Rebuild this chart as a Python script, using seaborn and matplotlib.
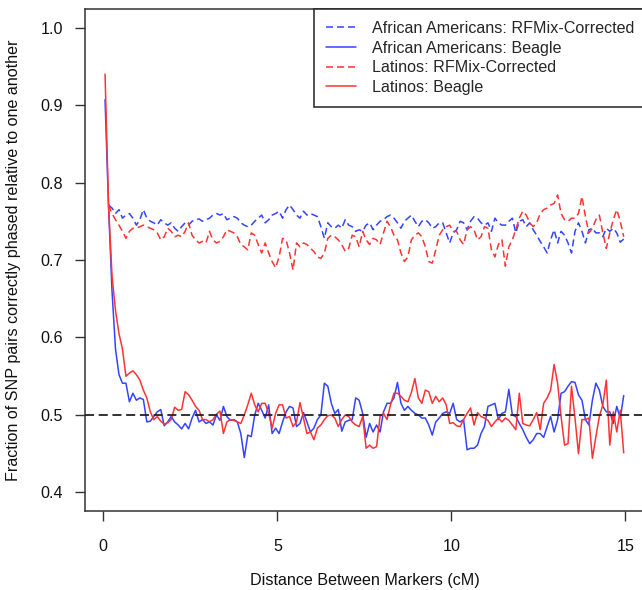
import numpy as np
import pandas as pd
import matplotlib
matplotlib.use("Agg")
import matplotlib.pyplot as plt
import seaborn as sns

# ---------------- data ----------------
# marker-distance grid (cM), bins of 0.1 cM, bin centres
distance_cm = np.round(np.arange(150) * 0.1 + 0.05, 2)

aa_beagle = [
    0.907, 0.770, 0.660, 0.585,
    0.552, 0.541, 0.541, 0.517, 0.528, 0.519, 0.522, 0.520, 0.491, 0.492,
    0.498, 0.504, 0.507, 0.486, 0.491, 0.498, 0.491, 0.487, 0.482, 0.489,
    0.482, 0.496, 0.506, 0.491, 0.494, 0.489, 0.491, 0.487, 0.500, 0.493,
    0.511, 0.498, 0.493, 0.494, 0.491, 0.476, 0.445, 0.474, 0.472, 0.500,
    0.515, 0.506, 0.496, 0.513, 0.476, 0.483, 0.476,
    0.491, 0.504, 0.511, 0.509, 0.485, 0.489, 0.503, 0.491, 0.478, 0.483,
    0.494, 0.500, 0.541, 0.537, 0.515, 0.502, 0.507, 0.479, 0.491, 0.493,
    0.494, 0.522, 0.519, 0.502, 0.471, 0.489, 0.478, 0.487, 0.478, 0.504,
    0.515, 0.515, 0.522, 0.542, 0.515, 0.506, 0.511, 0.506, 0.502, 0.500,
    0.496, 0.496, 0.487, 0.474, 0.491, 0.496, 0.502, 0.504, 0.502, 0.515,
    0.494, 0.491, 0.494, 0.455, 0.457, 0.457, 0.461, 0.476, 0.485, 0.511,
    0.513, 0.515, 0.494, 0.502, 0.504, 0.533, 0.500, 0.498, 0.489, 0.481,
    0.471, 0.463, 0.468, 0.476, 0.476, 0.471, 0.485, 0.498, 0.478, 0.494,
    0.528, 0.530, 0.537, 0.543, 0.542, 0.526, 0.519, 0.494, 0.487, 0.519,
    0.541, 0.532, 0.511, 0.504, 0.504, 0.489, 0.511, 0.496, 0.525,
]

lat_beagle = [
    0.940, 0.770, 0.680, 0.635, 0.605, 0.585,
    0.550, 0.554, 0.557, 0.552, 0.545, 0.532, 0.522, 0.504, 0.494, 0.498,
    0.492, 0.488, 0.490, 0.494, 0.510, 0.506, 0.507, 0.530, 0.526, 0.519,
    0.511, 0.506, 0.494, 0.494, 0.491, 0.494, 0.501, 0.505, 0.476, 0.491,
    0.494, 0.493, 0.491, 0.489, 0.500, 0.513, 0.528, 0.513, 0.504, 0.515,
    0.515, 0.502, 0.483, 0.502, 0.513,
    0.513, 0.496, 0.498, 0.485, 0.491, 0.516, 0.496, 0.476, 0.478, 0.468,
    0.483, 0.487, 0.494, 0.499, 0.500, 0.496, 0.485, 0.494, 0.500, 0.498,
    0.491, 0.487, 0.485, 0.498, 0.457, 0.461, 0.457, 0.459, 0.498, 0.502,
    0.494, 0.513, 0.528, 0.528, 0.524, 0.519, 0.517, 0.529, 0.547, 0.522,
    0.515, 0.532, 0.530, 0.515, 0.524, 0.517, 0.522, 0.513, 0.489, 0.490,
    0.486, 0.485, 0.494, 0.502, 0.509, 0.487, 0.503, 0.498, 0.496, 0.493,
    0.485, 0.491, 0.496, 0.491, 0.496, 0.493, 0.487, 0.481, 0.528, 0.489,
    0.487, 0.486, 0.494, 0.503, 0.481, 0.515, 0.522, 0.532, 0.565, 0.541,
    0.498, 0.461, 0.463, 0.537, 0.496, 0.450, 0.494, 0.494, 0.496, 0.444,
    0.472, 0.498, 0.513, 0.545, 0.461, 0.504, 0.478, 0.506, 0.451,
]

# RFMix-corrected series start at the second bin
aa_rfmix = [
    0.771, 0.767, 0.760, 0.765, 0.754, 0.758, 0.760, 0.754, 0.745, 0.752,
    0.765, 0.754, 0.750, 0.748, 0.745, 0.752, 0.748, 0.745, 0.748, 0.741,
    0.737, 0.743, 0.748, 0.745, 0.750, 0.752, 0.753, 0.750, 0.752, 0.754,
    0.758, 0.760, 0.758, 0.760, 0.752, 0.754, 0.756, 0.754, 0.748, 0.745,
    0.743, 0.745, 0.750, 0.754, 0.758, 0.748, 0.752, 0.758, 0.760, 0.763,
    0.754, 0.765, 0.771, 0.765, 0.758, 0.754, 0.763, 0.758, 0.760, 0.758,
    0.756, 0.743, 0.728, 0.748, 0.743, 0.741, 0.745, 0.741, 0.752, 0.745,
    0.743, 0.737, 0.739, 0.737, 0.745, 0.748, 0.739, 0.745, 0.750, 0.752,
    0.756, 0.758, 0.754, 0.748, 0.741, 0.750, 0.754, 0.758, 0.750, 0.743,
    0.750, 0.752, 0.748, 0.741, 0.743, 0.748, 0.748, 0.735, 0.722, 0.735,
    0.739, 0.750, 0.748, 0.739, 0.750, 0.756, 0.754, 0.748, 0.745, 0.748,
    0.737, 0.754, 0.748, 0.745, 0.745, 0.750, 0.754, 0.735, 0.750, 0.752,
    0.743, 0.748, 0.739, 0.732, 0.724, 0.717, 0.709, 0.726, 0.739, 0.722,
    0.737, 0.732, 0.722, 0.709, 0.737, 0.748, 0.737, 0.722, 0.739, 0.741,
    0.735, 0.735, 0.730, 0.741, 0.737, 0.741, 0.735, 0.723, 0.727,
]

lat_rfmix = [
    0.771, 0.760, 0.752, 0.745, 0.737, 0.728, 0.737, 0.741, 0.741, 0.743,
    0.745, 0.743, 0.741, 0.739, 0.735, 0.726, 0.730, 0.741, 0.737, 0.730,
    0.732, 0.730, 0.737, 0.748, 0.732, 0.726, 0.722, 0.724, 0.722, 0.737,
    0.726, 0.722, 0.724, 0.730, 0.739, 0.737, 0.735, 0.730, 0.720, 0.717,
    0.713, 0.735, 0.732, 0.720, 0.709, 0.722, 0.709, 0.698, 0.690, 0.704,
    0.728, 0.726, 0.709, 0.687, 0.722, 0.717, 0.722, 0.720, 0.715, 0.711,
    0.704, 0.702, 0.709, 0.728, 0.732, 0.730, 0.726, 0.720, 0.711, 0.715,
    0.732, 0.730, 0.717, 0.737, 0.726, 0.720, 0.728, 0.726, 0.720, 0.735,
    0.750, 0.743, 0.732, 0.726, 0.709, 0.698, 0.704, 0.726, 0.732, 0.735,
    0.730, 0.717, 0.698, 0.696, 0.713, 0.732, 0.739, 0.743, 0.745, 0.737,
    0.737, 0.726, 0.720, 0.739, 0.743, 0.739, 0.726, 0.730, 0.743, 0.741,
    0.713, 0.704, 0.720, 0.726, 0.692, 0.717, 0.726, 0.739, 0.754, 0.763,
    0.758, 0.748, 0.743, 0.748, 0.760, 0.765, 0.767, 0.771, 0.773, 0.784,
    0.760, 0.752, 0.750, 0.754, 0.754, 0.760, 0.782, 0.756, 0.735, 0.741,
    0.752, 0.758, 0.735, 0.715, 0.735, 0.752, 0.765, 0.750, 0.730,
]

series_labels = [
    "African Americans: RFMix-Corrected",
    "African Americans: Beagle",
    "Latinos: RFMix-Corrected",
    "Latinos: Beagle",
]
x_ticks = [0, 5, 10, 15]
y_ticks = [0.4, 0.5, 0.6, 0.7, 0.8, 0.9, 1.0]
reference_level = 0.5

# ---------------- style ----------------
sns.set_style("white")
plt.rcParams["font.family"] = ["Liberation Sans", "DejaVu Sans"]

BLUE = "#3344ff"
RED = "#ff3333"
FS = 11.6

W, H = 642, 590
fig = plt.figure(figsize=(W / 100, H / 100), dpi=100)
# axes region in pixels: left 85, right 646 (just past the image), top 9, bottom 511
ax = fig.add_axes([85 / W, (H - 511) / H, (646 - 85) / W, (511 - 9) / H])

dash = (0, (4.6, 2.6))
lw = 1.1

sns.lineplot(x=distance_cm[1:], y=aa_rfmix, ax=ax, color=BLUE, lw=lw,
             linestyle=dash, label=series_labels[0], sort=False, estimator=None)
sns.lineplot(x=distance_cm, y=aa_beagle, ax=ax, color=BLUE, lw=lw,
             label=series_labels[1], sort=False, estimator=None)
sns.lineplot(x=distance_cm[1:], y=lat_rfmix, ax=ax, color=RED, lw=lw,
             linestyle=dash, label=series_labels[2], sort=False, estimator=None)
sns.lineplot(x=distance_cm, y=lat_beagle, ax=ax, color=RED, lw=lw,
             label=series_labels[3], sort=False, estimator=None)
ax.axhline(reference_level, color="#222222", lw=1.3, linestyle=(0, (5, 2.6)), zorder=5)

ax.set_xlim(-0.526, 15.59)
ax.set_ylim(0.376, 1.024)
ax.set_xticks(x_ticks)
ax.set_xticklabels([str(t) for t in x_ticks])
ax.set_yticks(y_ticks)
ax.set_yticklabels([f"{t:.1f}" for t in y_ticks])

for s in ax.spines.values():
    s.set_visible(True)
    s.set_color("#333333")
    s.set_linewidth(1.1)

ax.tick_params(axis="both", which="major", bottom=True, left=True,
               top=False, right=False, direction="out", length=7.2, width=1.0,
               color="#333333", labelsize=FS, labelcolor="#111111")
ax.tick_params(axis="x", pad=13)
ax.tick_params(axis="y", pad=8.6)
ax.set_xlabel("")
ax.set_ylabel("")

fig.text(365 / W, 1 - 580 / H, "Distance Between Markers (cM)", ha="center",
         va="center", fontsize=FS, color="#111111")
fig.text(14 / W, 1 - 260 / H,
         "Fraction of SNP pairs correctly phased relative to one another",
         ha="center", va="center", rotation=90, fontsize=FS, color="#111111")

leg = ax.legend(loc="upper right", bbox_to_anchor=(1.0, 1.0), borderaxespad=0,
                fontsize=FS, frameon=True, fancybox=False, edgecolor="#222222",
                framealpha=1, handlelength=1.85, handletextpad=0.95,
                borderpad=0.75, labelspacing=0.29)
leg.get_frame().set_linewidth(1.1)

fig.savefig("out.png", dpi=100)
